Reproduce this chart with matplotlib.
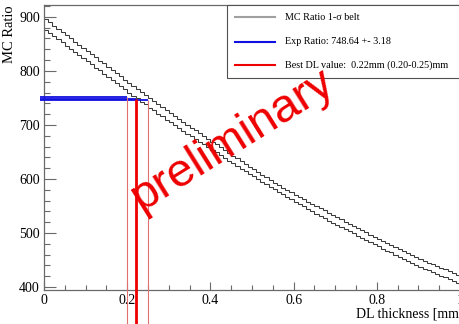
import matplotlib
matplotlib.use('Agg')
import numpy as np
from matplotlib import pyplot as plt
from matplotlib.lines import Line2D
from matplotlib.patches import Rectangle

# MC ratio 1-sigma belt (histogram bins of 0.01 mm from 0 to 1 mm)
upper = [896, 890, 884, 878, 872, 866, 860, 854, 848, 843,
         837, 831, 825, 819, 814, 808, 802, 796, 790, 784,
         778, 772, 766, 761, 755, 749, 744, 738, 733, 727,
         722, 717, 711, 706, 700, 695, 690, 685, 679, 674,
         669, 664, 659, 653, 648, 643, 638, 633, 628, 623,
         618, 613, 608, 603, 598, 593, 589, 584, 580, 575,
         571, 567, 563, 558, 554, 550, 546, 542, 537, 533,
         529, 525, 521, 517, 513, 509, 505, 501, 497, 493,
         489, 485, 481, 478, 474, 470, 466, 463, 459, 456,
         452, 449, 445, 442, 439, 436, 433, 429, 426, 423]
lower = [876, 870, 864, 859, 853, 847, 841, 835, 830, 824,
         818, 812, 806, 801, 795, 789, 783, 777, 772, 766,
         760, 754, 749, 743, 738, 732, 727, 721, 716, 710,
         705, 700, 695, 689, 684, 679, 674, 669, 664, 659,
         654, 649, 644, 639, 634, 629, 624, 619, 615, 610,
         605, 600, 595, 591, 586, 581, 576, 572, 567, 563,
         558, 554, 549, 545, 540, 536, 532, 528, 523, 519,
         515, 511, 507, 503, 499, 495, 491, 487, 483, 479,
         475, 471, 467, 464, 460, 456, 452, 448, 445, 441,
         437, 434, 431, 427, 424, 421, 418, 415, 411, 408]
dl_min, dl_max = 0.0, 1.0

exp_ratio = 748.64
exp_err = 3.18
best_dl = 0.22
dl_low = 0.20
dl_high = 0.25

W, H = 460, 324
fig = plt.figure(figsize=(W / 100, H / 100), dpi=100)
ax = fig.add_axes([44 / W, 1 - 290 / H, (460 - 44) / W, (290 - 5) / H])

serif = 'Liberation Serif'
frame_col = '#6a6a6a'

edges = np.linspace(dl_min, dl_max, len(upper) + 1)
ax.stairs(upper, edges, baseline=None, color='#3a3a3a', lw=0.75)
ax.stairs(lower, edges, baseline=None, color='#3a3a3a', lw=0.75)

# experimental ratio with its error
blue = '#1010e0'
ax.hlines(exp_ratio + exp_err, -0.01, dl_low, color=blue, lw=1.3, clip_on=False, zorder=4)
ax.hlines(exp_ratio, -0.01, best_dl, color=blue, lw=1.3, clip_on=False, zorder=4)
ax.hlines(exp_ratio - exp_err, -0.01, dl_high, color=blue, lw=1.3, clip_on=False, zorder=4)

# best DL value and range
ax.vlines(best_dl, 300, exp_ratio, color='#ee0000', lw=2.0, clip_on=False, zorder=5)
ax.vlines(dl_low, 300, exp_ratio + exp_err, color='#e07070', lw=0.8, clip_on=False, zorder=5)
ax.vlines(dl_high, 300, exp_ratio - exp_err, color='#e07070', lw=0.8, clip_on=False, zorder=5)

ax.set_xlim(0, 1.0)
ax.set_ylim(394.4, 922)
ax.set_xticks([0, 0.2, 0.4, 0.6, 0.8, 1])
ax.set_xticklabels(['0', '0.2', '0.4', '0.6', '0.8', '1'])
ax.set_xticks(np.arange(0, 1.0001, 0.05), minor=True)
ax.set_yticks([400, 500, 600, 700, 800, 900])
ax.set_yticks(np.arange(400, 921, 20), minor=True)

ax.tick_params(axis='both', which='both', direction='in', color=frame_col, width=0.8,
               labelsize=10, labelfontfamily=serif)
ax.tick_params(axis='y', which='major', length=8.6, pad=3)
ax.tick_params(axis='y', which='minor', length=4.3)
ax.tick_params(axis='x', which='major', length=5.8, pad=3)
ax.tick_params(axis='x', which='minor', length=3.6)
for s in ['left', 'bottom', 'top']:
    ax.spines[s].set_color(frame_col)
    ax.spines[s].set_linewidth(0.9)
ax.spines['right'].set_visible(False)

fig.text(10 / W, 1 - 5 / H, 'MC Ratio', rotation=90, ha='center', va='top',
         family=serif, fontsize=10.5)
fig.text(463 / W, 1 - 318 / H, 'DL thickness [mm]', ha='right', va='baseline',
         family=serif, fontsize=10)

# legend box
fig.add_artist(Rectangle((227 / W, 1 - 78 / H), 250 / W, 73 / H, transform=fig.transFigure,
                         facecolor='white', edgecolor='#505050', lw=0.8, zorder=6))
items = [('#a0a0a0', 'MC Ratio 1-\u03c3 belt', 17),
         (blue, 'Exp Ratio: 748.64 +- 3.18', 42),
         ('#ee0000', 'Best DL value:  0.22mm (0.20-0.25)mm', 65)]
for col, label, yy in items:
    fig.add_artist(Line2D([235 / W, 275 / W], [1 - yy / H, 1 - yy / H], transform=fig.transFigure,
                          color=col, lw=1.5, zorder=7))
    fig.text(285 / W, 1 - yy / H, label, ha='left', va='center', family=serif,
             fontsize=7.3, zorder=7)

fig.text(232 / W, 1 - 140 / H, 'preliminary', rotation=32, rotation_mode='anchor',
         ha='center', va='center', color='#ee0000', family='Liberation Sans',
         fontsize=34, zorder=8)

fig.savefig('out.png', dpi=100)
